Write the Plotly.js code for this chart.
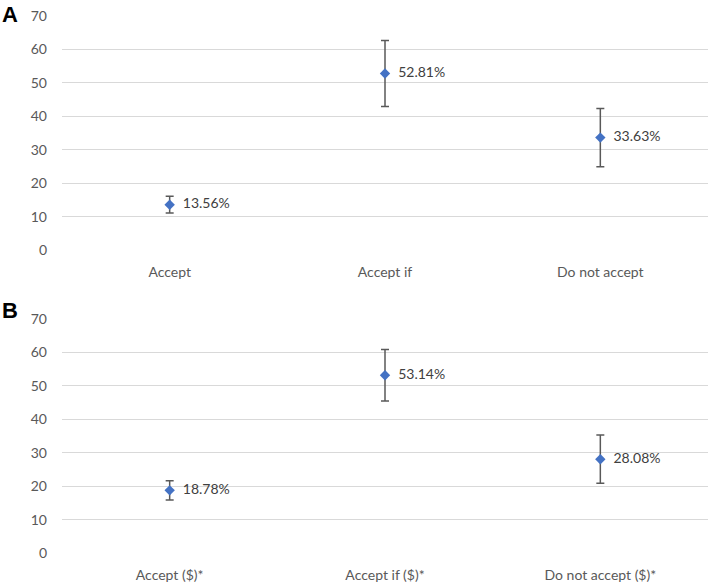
<!DOCTYPE html>
<html><head><meta charset="utf-8">
<script src="https://cdn.plot.ly/plotly-3.0.1.min.js"></script>
<style>html,body{margin:0;padding:0;background:#fff}#chart{width:708px;height:582px}</style>
</head><body><div id="chart"></div>
<script>
var catsA = ["Accept", "Accept if", "Do not accept"];
var valsA = [13.56, 52.81, 33.63];
var errA = [2.5, 9.9, 8.7];
var labelsA = ["13.56%", "52.81%", "33.63%"];

var catsB = ["Accept ($)*", "Accept if ($)*", "Do not accept ($)*"];
var valsB = [18.78, 53.14, 28.08];
var errB = [2.9, 7.7, 7.2];
var labelsB = ["18.78%", "53.14%", "28.08%"];

var yTicks = [0, 10, 20, 30, 40, 50, 60, 70];

var FONT = "Lato, 'Open Sans', sans-serif";
var blue = "#4472C4";
var errColor = "#595959";

function trace(cats, vals, errs, labels, xa, ya) {
  return {
    type: "scatter", mode: "markers+text",
    x: cats, y: vals, xaxis: xa, yaxis: ya,
    text: labels.map(function(s){return "  " + s;}),
    textposition: "middle right",
    textfont: {family: FONT, size: 14, color: "#404040"},
    marker: {symbol: "diamond", size: 8, color: blue},
    error_y: {type: "data", array: errs, visible: true, color: errColor, thickness: 1.5, width: 4},
    cliponaxis: false, hoverinfo: "skip", showlegend: false
  };
}

var data = [
  trace(catsA, valsA, errA, labelsA, "x", "y"),
  trace(catsB, valsB, errB, labelsB, "x2", "y2")
];

function xax(anchor) {
  return {anchor: anchor, domain: [0, 1], range: [-0.5, 2.5], type: "category",
    showgrid: false, zeroline: false, showline: false, ticks: "",
    tickfont: {family: FONT, size: 14, color: "#595959"}, ticklabelstandoff: 12, automargin: false};
}
function yax(anchor, dom) {
  return {anchor: anchor, domain: dom, range: [0, 70], tickvals: yTicks,
    showgrid: true, gridcolor: "#d9d9d9", gridwidth: 1, zeroline: false, showline: false, ticks: "",
    tickfont: {family: FONT, size: 14, color: "#595959"}, ticklabelstandoff: 14, automargin: false};
}

var layout = {
  width: 708, height: 582,
  margin: {l: 62, r: 0, t: 0, b: 0},
  paper_bgcolor: "#fff", plot_bgcolor: "#fff",
  xaxis: xax("y"), yaxis: yax("x", [0.5704, 0.9725]),
  xaxis2: xax("y2"), yaxis2: yax("x2", [0.0493, 0.4524]),
  annotations: [
    {text: "<b>A</b>", xref: "paper", yref: "paper", x: -62/646, y: 1 - 14/582, xanchor: "left", yanchor: "middle",
     showarrow: false, font: {family: "Liberation Sans, Arial, sans-serif", size: 22, color: "#000"}},
    {text: "<b>B</b>", xref: "paper", yref: "paper", x: -62/646, y: 1 - 310/582, xanchor: "left", yanchor: "middle",
     showarrow: false, font: {family: "Liberation Sans, Arial, sans-serif", size: 22, color: "#000"}}
  ]
};

Plotly.newPlot("chart", data, layout, {displayModeBar: false, staticPlot: true});
</script></body></html>
